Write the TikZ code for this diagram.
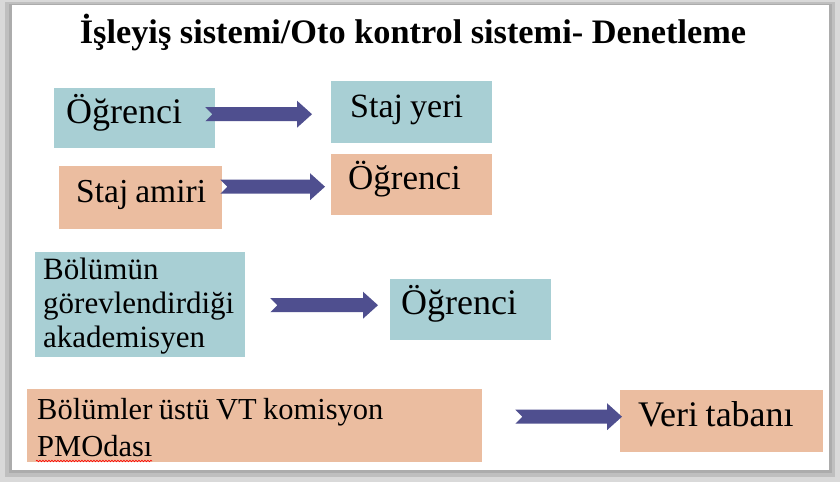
\documentclass[tikz,border=0pt]{standalone}
\usepackage{fontspec}
\setmainfont{Liberation Serif}
\usetikzlibrary{calc,decorations.pathmorphing}

\definecolor{mavikutu}{HTML}{A8CFD4}
\definecolor{somonkutu}{HTML}{EBBDA0}
\definecolor{okrengi}{HTML}{4F4F8F}

\tikzset{
  kutu/.style={anchor=north west, inner ysep=0pt, align=left,
    execute at begin node={\spaceskip=.21em\relax}},
  teksatir/.style={text height=20pt, text depth=10pt},
  blok/.style={fill=okrengi, to path={let \p1=(\tikztostart), \p2=(\tikztotarget) in
    (\x1,\y1+7pt) -- (\x2-15pt,\y1+7pt) -- (\x2-15pt,\y1+13.5pt) -- (\x2,\y1)
    -- (\x2-15pt,\y1-13.5pt) -- (\x2-15pt,\y1-7pt) -- (\x1,\y1-7pt) -- (\x1+7pt,\y1) -- cycle}}
}

\begin{document}
\begin{tikzpicture}[x=1pt,y=-1pt]
%% cerceve
\fill[gray!30] (0,0) rectangle (840,482);
\fill[gray!50] (5,2) rectangle (835,477);
\fill[gray!65] (9,4) rectangle (832,473);
\fill[white] (12,5) rectangle (829,470);
\useasboundingbox (0,0) rectangle (840,482);

%% baslik
\node[font=\fontsize{34.3}{40}\selectfont\bfseries, anchor=base] (baslik) at (413,43)
  {İşleyiş sistemi/Oto kontrol sistemi- Denetleme};

%% kutular
\node[kutu, teksatir, fill=mavikutu, text width=137pt, inner xsep=12pt, minimum height=60pt,
  font=\fontsize{36}{40}\selectfont] (ogr1) at (54,88) {Öğrenci};
\node[kutu, teksatir, fill=mavikutu, text width=123pt, inner xsep=19pt, minimum height=62pt,
  font=\fontsize{34}{40}\selectfont] (syeri) at (331,81) {Staj yeri};
\node[kutu, teksatir, fill=somonkutu, text width=129pt, inner xsep=17pt, minimum height=63pt,
  font=\fontsize{33.5}{40}\selectfont] (samiri) at (59,166) {Staj~amiri};
\node[kutu, teksatir, fill=somonkutu, text width=127pt, inner xsep=17pt, minimum height=61pt,
  font=\fontsize{35}{40}\selectfont] (ogr2) at (331,154) {Öğrenci};
\node[kutu, fill=mavikutu, text width=194pt, inner xsep=8pt, minimum height=105pt,
  font=\fontsize{31}{34}\selectfont] (akad) at (35,252)
  {\rule{0pt}{25pt}Bölümün\\görevlendirdiği\\akademisyen};
\node[kutu, teksatir, fill=mavikutu, text width=139pt, inner xsep=11pt, minimum height=61pt,
  font=\fontsize{36}{40}\selectfont] (ogr3) at (390,279) {Öğrenci};
\node[kutu, fill=somonkutu, text width=435pt, inner xsep=10pt, minimum height=73pt,
  font=\fontsize{30.5}{37}\selectfont] (komisyon) at (27,389)
  {\rule{0pt}{24pt}Bölümler üstü VT komisyon\\PMOdası};
\node[kutu, teksatir, fill=somonkutu, text width=167pt, inner xsep=18pt, minimum height=62pt,
  font=\fontsize{36}{40}\selectfont] (veri) at (620,390) {Veri tabanı};

%% imla cizgisi
\draw[red, line width=0.6pt, decorate, decoration={snake, amplitude=0.8pt, segment length=3pt}]
  (36,461) -- (152,461);

%% oklar
\path[blok] ([shift={(-10,-4)}]ogr1.east) to ([xshift=-19pt]syeri.west);
\path[blok] ([shift={(-2,-11)}]samiri.east) to ([xshift=-6pt]ogr2.west);
\path[blok] ([shift={(25,0.5)}]akad.east) to ([xshift=-12pt]ogr3.west);
\path[blok] ([shift={(33,-9)}]komisyon.east) to ([xshift=2pt]veri.west);

\end{tikzpicture}
\end{document}
